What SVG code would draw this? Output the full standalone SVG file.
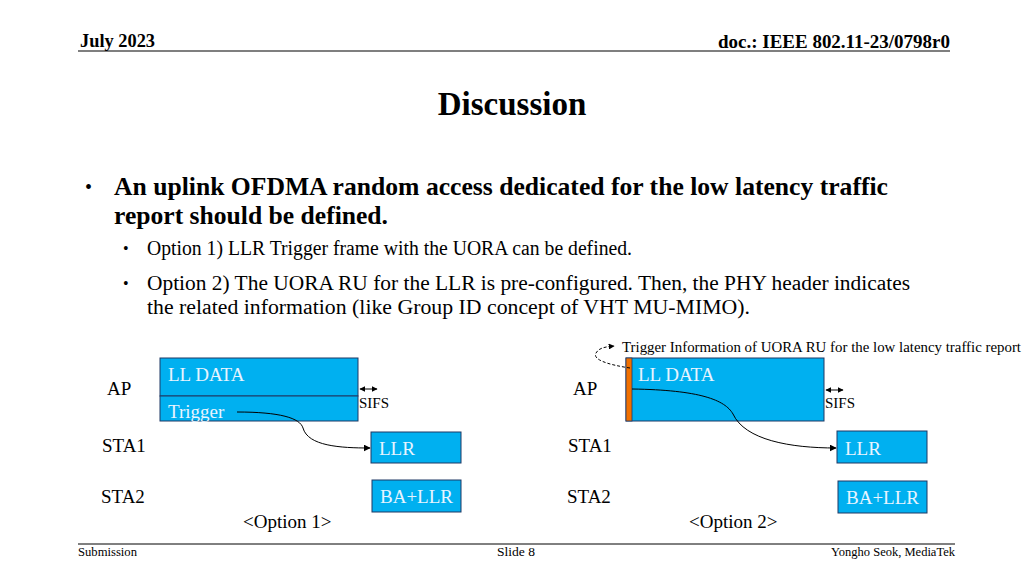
<svg xmlns="http://www.w3.org/2000/svg" width="1024" height="576" viewBox="0 0 1024 576">
<defs>
<style>
.t{font-family:"Liberation Serif","Times New Roman",serif;fill:#000}
.b{font-weight:bold}
.box{fill:#00B0F0;stroke:#1F3864;stroke-width:1}
.bt{font-family:"Liberation Serif","Times New Roman",serif;fill:#E8F4FF;font-size:19px}
.lbl{font-size:19px}
.conn{fill:none;stroke:#000;stroke-width:1}
</style>
<marker id="ah" viewBox="0 0 10 10" refX="9" refY="5" markerWidth="7" markerHeight="7" markerUnits="userSpaceOnUse" orient="auto"><path d="M0,0 L10,5 L0,10 z" fill="#000"/></marker>
<marker id="ah2" viewBox="0 0 10 10" refX="9" refY="5" markerWidth="6" markerHeight="6" markerUnits="userSpaceOnUse" orient="auto-start-reverse"><path d="M0,0 L10,5 L0,10 z" fill="#000"/></marker>
</defs>
<rect width="1024" height="576" fill="#fff"/>
<!-- header -->
<text class="t b" x="80" y="47" font-size="18" textLength="75" lengthAdjust="spacingAndGlyphs">July 2023</text>
<text class="t b" x="718" y="48" font-size="18" textLength="232" lengthAdjust="spacingAndGlyphs">doc.: IEEE 802.11-23/0798r0</text>
<line x1="78" y1="51" x2="950" y2="51" stroke="#000" stroke-width="1.2"/>
<text class="t b" x="512" y="115" font-size="33" text-anchor="middle">Discussion</text>
<!-- bullets -->
<text class="t" x="85" y="194" font-size="20">•</text>
<text class="t b" x="114" y="195" font-size="25.5" textLength="774" lengthAdjust="spacingAndGlyphs">An uplink OFDMA random access dedicated for the low latency traffic</text>
<text class="t b" x="114" y="224" font-size="25.5" textLength="274" lengthAdjust="spacingAndGlyphs">report should be defined.</text>
<text class="t" x="123" y="254" font-size="16">•</text>
<text class="t" x="147" y="255" font-size="20" textLength="485" lengthAdjust="spacingAndGlyphs">Option 1) LLR Trigger frame with the UORA can be defined.</text>
<text class="t" x="123" y="289" font-size="16">•</text>
<text class="t" x="147" y="290" font-size="20" textLength="763" lengthAdjust="spacingAndGlyphs">Option 2) The UORA RU for the LLR is pre-configured. Then, the PHY header indicates</text>
<text class="t" x="147" y="314" font-size="20" textLength="603" lengthAdjust="spacingAndGlyphs">the related information (like Group ID concept of VHT MU-MIMO).</text>
<!-- option 1 -->
<g id="opt1-labels">
<text class="t lbl" x="107" y="395">AP</text>
<text class="t lbl" x="102" y="452">STA1</text>
<text class="t lbl" x="101" y="503">STA2</text>
<text class="t lbl" x="243" y="528">&lt;Option 1&gt;</text>
</g>
<g id="o1-lldata">
<rect class="box" x="160" y="358" width="198" height="38"/>
<text class="bt" x="168" y="381">LL DATA</text>
</g>
<g id="o1-trigger">
<rect class="box" x="160" y="396" width="198" height="25"/>
<text class="bt" x="168" y="418">Trigger</text>
</g>
<g id="o1-llr">
<rect class="box" x="371" y="432" width="90" height="31"/>
<text class="bt" x="379" y="455">LLR</text>
</g>
<g id="o1-ballr">
<rect class="box" x="372" y="480" width="89" height="32"/>
<text class="bt" x="380" y="503">BA+LLR</text>
</g>
<g id="o1-sifs">
<text class="t" x="359" y="408" font-size="15">SIFS</text>
</g>
<!-- option 2 -->
<g id="opt2-labels">
<text class="t lbl" x="573" y="395">AP</text>
<text class="t lbl" x="568" y="452">STA1</text>
<text class="t lbl" x="567" y="503">STA2</text>
<text class="t lbl" x="689" y="528">&lt;Option 2&gt;</text>
</g>
<g id="o2-lldata">
<rect class="box" x="626" y="358" width="198" height="63"/>
<rect x="626" y="358" width="6" height="63" fill="#F07000" stroke="#1F3864" stroke-width="0.8"/>
<text class="bt" x="638" y="381">LL DATA</text>
</g>
<g id="o2-llr">
<rect class="box" x="837" y="431" width="90" height="32"/>
<text class="bt" x="845" y="455">LLR</text>
</g>
<g id="o2-ballr">
<rect class="box" x="838" y="481" width="89" height="32"/>
<text class="bt" x="846" y="504">BA+LLR</text>
</g>
<g id="o2-sifs">
<text class="t" x="825" y="408" font-size="15">SIFS</text>
</g>
<g id="o2-note">
<text class="t" x="622" y="352" font-size="15" textLength="399" lengthAdjust="spacingAndGlyphs">Trigger Information of UORA RU for the low latency traffic report</text>
</g>
<!-- connectors -->
<g id="connectors">
<line class="conn" x1="360" y1="389" x2="377" y2="389" marker-start="url(#ah2)" marker-end="url(#ah2)"/>
<line class="conn" x1="826" y1="390" x2="843" y2="390" marker-start="url(#ah2)" marker-end="url(#ah2)"/>
<path class="conn" d="M237,412 C280,412 300,418 303,428 C308,446 340,448 370,448" marker-end="url(#ah)"/>
<path class="conn" d="M632,389 C700,390 725,400 733,414 C745,440 790,448 836,448" marker-end="url(#ah)"/>
<path class="conn" d="M630,368 C610,365 592,360 596,353 C599,348 604,347 614,346" stroke-dasharray="3,2" marker-end="url(#ah2)"/>
</g>
<!-- footer -->
<line x1="78" y1="544" x2="955" y2="544" stroke="#000" stroke-width="1"/>
<text class="t" x="78" y="556" font-size="12" textLength="59" lengthAdjust="spacingAndGlyphs">Submission</text>
<text class="t" x="497" y="556" font-size="12" textLength="38" lengthAdjust="spacingAndGlyphs">Slide 8</text>
<text class="t" x="831" y="556" font-size="12" textLength="124" lengthAdjust="spacingAndGlyphs">Yongho Seok, MediaTek</text>
</svg>
